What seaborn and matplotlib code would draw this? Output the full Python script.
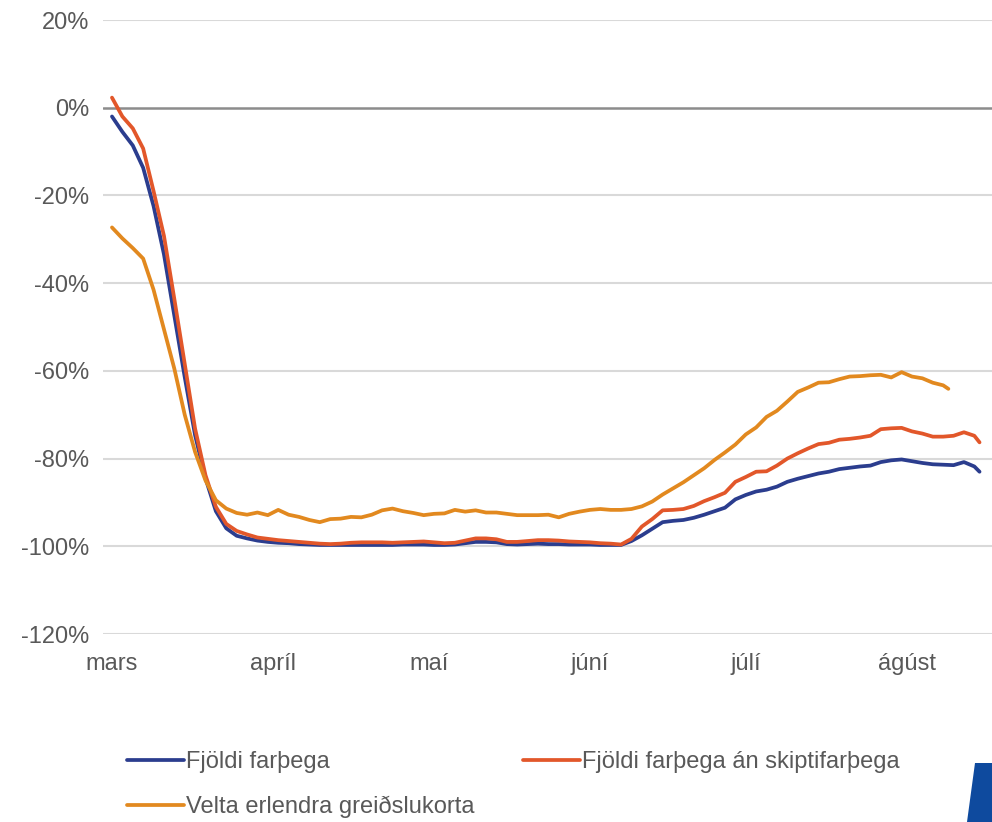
import numpy as np
import pandas as pd
import matplotlib
matplotlib.use("Agg")
import matplotlib.pyplot as plt
from matplotlib.patches import Polygon
from matplotlib.lines import Line2D
import seaborn as sns

# ---------------- data ----------------
start_date = "2020-03-01"
days_passengers = list(range(0, 167, 2)) + [167]
days_cards = list(range(0, 161, 2)) + [161]

fjoldi_farthega = [
    -2.0, -5.5, -8.6, -13.7, -22.4, -33.4, -47.4, -61.4, -74.7, -84.5,
    -92.0, -95.9, -97.6, -98.2, -98.7, -99.0, -99.2, -99.3, -99.5, -99.6,
    -99.7, -99.7, -99.7, -99.7, -99.7, -99.7, -99.7, -99.7, -99.6, -99.6,
    -99.6, -99.7, -99.7, -99.6, -99.3, -99.0, -99.0, -99.1, -99.5, -99.6,
    -99.5, -99.4, -99.5, -99.5, -99.6, -99.6, -99.6, -99.7, -99.7, -99.7,
    -98.8, -97.5, -96.0, -94.5, -94.2, -94.0, -93.5, -92.8, -92.0, -91.2,
    -89.3, -88.3, -87.5, -87.1, -86.4, -85.3, -84.6, -84.0, -83.4, -83.0,
    -82.4, -82.1, -81.8, -81.6, -80.8, -80.4, -80.2, -80.6, -81.0, -81.3,
    -81.4, -81.5, -80.8, -81.8, -83.0,
]
fjoldi_an_skipti = [
    2.3, -2.0, -4.7, -9.3, -19.0, -29.2, -43.6, -58.4, -73.2, -83.8,
    -91.0, -94.9, -96.5, -97.3, -98.0, -98.3, -98.6, -98.8, -99.0, -99.2,
    -99.4, -99.5, -99.4, -99.2, -99.1, -99.1, -99.1, -99.2, -99.1, -99.0,
    -98.9, -99.1, -99.3, -99.2, -98.7, -98.2, -98.2, -98.4, -99.0, -99.0,
    -98.8, -98.6, -98.6, -98.7, -98.9, -99.0, -99.1, -99.3, -99.4, -99.6,
    -98.3, -95.5, -93.8, -91.8, -91.7, -91.5, -90.8, -89.7, -88.8, -87.8,
    -85.3, -84.2, -83.0, -82.9, -81.6, -80.0, -78.8, -77.7, -76.7, -76.4,
    -75.7, -75.5, -75.2, -74.8, -73.3, -73.1, -73.0, -73.8, -74.3, -75.0,
    -75.0, -74.8, -74.0, -74.8, -76.3,
]
velta_korta = [
    -27.3, -29.8, -32.0, -34.4, -41.5, -50.5, -59.5, -70.0, -78.5, -85.0,
    -89.5, -91.4, -92.4, -92.8, -92.3, -92.9, -91.7, -92.8, -93.3, -94.0,
    -94.5, -93.8, -93.7, -93.3, -93.4, -92.8, -91.8, -91.4, -92.0, -92.4,
    -92.9, -92.6, -92.5, -91.7, -92.1, -91.8, -92.3, -92.3, -92.6, -92.9,
    -92.9, -92.9, -92.8, -93.4, -92.6, -92.1, -91.7, -91.5, -91.7, -91.7,
    -91.5, -90.9, -89.8, -88.2, -86.8, -85.4, -83.8, -82.2, -80.3, -78.6,
    -76.8, -74.5, -72.9, -70.5, -69.1, -67.0, -64.8, -63.8, -62.7, -62.6,
    -61.9, -61.3, -61.2, -61.0, -60.9, -61.5, -60.3, -61.3, -61.7, -62.7,
    -63.3, -64.1,
]

series_names = ["Fjöldi farþega", "Fjöldi farþega án skiptifarþega",
                "Velta erlendra greiðslukorta"]
series_colors = ["#2b3d8e", "#e2572a", "#e2891f"]
month_labels = ["mars", "apríl", "maí", "júní", "júlí", "ágúst"]
month_starts = ["2020-03-01", "2020-04-01", "2020-05-01", "2020-06-01",
                "2020-07-01", "2020-08-01"]
y_ticks = [-120, -100, -80, -60, -40, -20, 0, 20]

# ---------------- frame ----------------
t0 = pd.Timestamp(start_date)
frames = []
for name, days, vals in [(series_names[0], days_passengers, fjoldi_farthega),
                         (series_names[1], days_passengers, fjoldi_an_skipti),
                         (series_names[2], days_cards, velta_korta)]:
    frames.append(pd.DataFrame({
        "date": t0 + pd.to_timedelta(days, unit="D"),
        "value": vals,
        "series": name,
    }))
df = pd.concat(frames, ignore_index=True)

# ---------------- plot ----------------
sns.set_style("white")
plt.rcParams["font.family"] = ["Liberation Sans", "DejaVu Sans"]
text_color = "#595959"
fs = 17

W, H = 992, 822
fig = plt.figure(figsize=(W / 100, H / 100), dpi=100)
ax = fig.add_axes([103 / W, 1 - 634 / H, (992 - 103) / W, (634 - 20) / H])

for y in y_ticks:
    if y != 0:
        ax.axhline(y, color="#d9d9d9", lw=1.5, zorder=0)
ax.axhline(0, color="#8c8c8c", lw=1.8, zorder=1)

sns.lineplot(data=df, x="date", y="value", hue="series",
             hue_order=series_names, palette=series_colors,
             linewidth=2.7, ax=ax, legend=False, zorder=3)

ax.set_ylim(-120, 20)
ax.set_xlim(t0 - pd.Timedelta(days=1.73), t0 + pd.Timedelta(days=169.4))
ax.set_yticks(y_ticks)
ax.set_yticklabels([f"{v}%" for v in y_ticks])
ax.set_xticks(pd.to_datetime(month_starts))
ax.set_xticklabels(month_labels)
ax.tick_params(axis="y", length=0, pad=10, labelsize=fs, labelcolor=text_color)
ax.tick_params(axis="x", length=0, pad=14, labelsize=fs, labelcolor=text_color)
ax.set_xlabel("")
ax.set_ylabel("")
for s in ax.spines.values():
    s.set_visible(False)

# legend: row 1 = blue, red ; row 2 = orange
order = [0, 2, 1]
handles = [Line2D([], [], color=series_colors[i], lw=2.7) for i in order]
labels = [series_names[i] for i in order]
fig.legend(handles, labels, ncol=2, loc="upper left",
           bbox_to_anchor=(127 / W, 1 - 751 / H), frameon=False,
           fontsize=fs, labelcolor=text_color, handlelength=2.4,
           handletextpad=0.1, columnspacing=2.07, labelspacing=0.95,
           borderpad=0, borderaxespad=0)

logo = Polygon([[975 / W, 1 - 763 / H], [1.0, 1 - 763 / H], [1.0, 0.0],
                [967 / W, 0.0]], closed=True, transform=fig.transFigure,
               facecolor="#0e4a9e", edgecolor="none")
fig.patches.append(logo)

fig.savefig("out.png", dpi=100)
